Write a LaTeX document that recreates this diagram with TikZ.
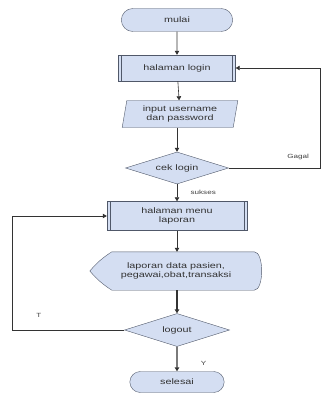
\documentclass[tikz,border=0pt]{standalone}
\usepackage{fontspec}
\setmainfont[FakeStretch=1.35]{Liberation Sans}
\usetikzlibrary{shapes.geometric,shapes.misc,arrows.meta,positioning,backgrounds}
\definecolor{boxfill}{RGB}{212,222,242}
\definecolor{boxline}{RGB}{80,88,105}
\tikzset{
  every node/.style={font=\fontsize{8}{9.5}\selectfont,align=center,text=black!80},
  term/.style={rounded rectangle,draw=boxline,fill=boxfill,minimum width=118pt,minimum height=23pt},
  proc/.style={rectangle,draw=boxline,fill=boxfill,minimum height=26pt,
    path picture={\draw[boxline] ([xshift=3pt]path picture bounding box.north west) -- ([xshift=3pt]path picture bounding box.south west)
      ([xshift=-3pt]path picture bounding box.north east) -- ([xshift=-3pt]path picture bounding box.south east);}},
  io/.style={trapezium,trapezium left angle=80,trapezium right angle=100,trapezium stretches=true,draw=boxline,fill=boxfill,minimum width=116pt,minimum height=27pt,inner sep=1pt},
  dec/.style={diamond,aspect=3,draw=boxline,fill=boxfill,inner sep=0pt},
  arr/.style={draw=black!80,line width=0.6pt,-{Triangle[length=4pt,width=4.5pt]}},
  lbl/.style={font=\fontsize{6}{7}\selectfont,text=black!75}
}
\begin{document}
\begin{tikzpicture}[x=1pt,y=-1pt]
\useasboundingbox (0,0) rectangle (328,393);
\node[term] (mulai) at (177,20) {mulai};
\node[proc,minimum width=117pt] (login) at (177,68) {halaman login};
\node[io] (input) at (180,114) {input username\\dan password};
\node[dec,minimum width=103pt,minimum height=32pt] (cek) at (177,168) {cek login};
\node[proc,minimum width=140pt,minimum height=29pt,inner sep=1pt] (menu) at (177,216) {halaman menu\\laporan};
\node[minimum width=172pt,minimum height=38pt,inner sep=1pt] (lap) at (176,271) {laporan data pasien,\\pegawai,obat,transaksi};
\begin{scope}[on background layer]
\draw[boxline,fill=boxfill] (lap.west) to[bend left=8] ([xshift=22pt]lap.north west) -- ([xshift=-8pt]lap.north east)
  .. controls ([xshift=2pt]lap.north east) and ([xshift=2pt]lap.south east) .. ([xshift=-8pt]lap.south east)
  -- ([xshift=22pt]lap.south west) to[bend left=8] (lap.west);
\end{scope}
\node[dec,minimum width=105pt,minimum height=33pt] (logout) at (177,330) {logout};
\node[term,minimum width=101pt,minimum height=21pt] (selesai) at (177,382) {selesai};
\coordinate (kanan) at (320,0);
\coordinate (kiri) at (12,0);
\draw[arr] (mulai) -- (login);
\draw[arr] (login) -- (input);
\draw[arr] (input.south -| cek) -- (cek);
\draw[arr] (cek.east) -- node[lbl,pos=0.76,above=5pt] {Gagal} (cek.east -| kanan) |- (login.east);
\draw[arr] (cek) -- node[lbl,right=10pt] {sukses} (menu);
\draw[arr] (menu) -- (lap.north -| menu);
\draw[arr,line width=1.2pt] (lap.south -| logout) -- (logout);
\draw[arr] (logout.west) -- node[lbl,pos=0.76,above=9pt] {T} (logout.west -| kiri) |- (menu.west);
\draw[arr,line width=1.1pt] (logout) -- node[lbl,pos=0.7,right=20pt] {Y} (selesai);
\end{tikzpicture}
\end{document}
